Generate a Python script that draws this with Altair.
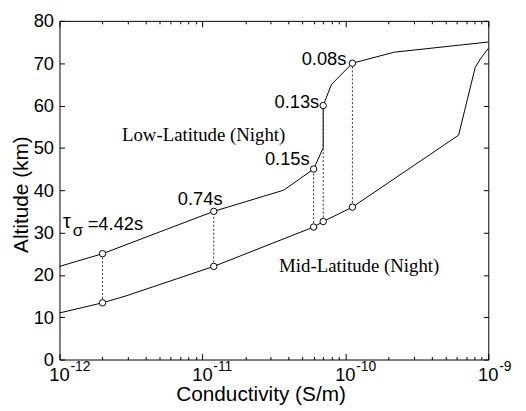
import altair as alt
import pandas as pd

# ---- data ----
low_x = [1e-12, 2e-12, 1.2e-11, 3.7e-11, 6e-11, 7e-11, 7e-11, 8e-11, 1.12e-10, 2.2e-10, 1e-9]
low_y = [22, 25, 35, 40, 45, 50, 60, 65, 70, 72.6, 75]
mid_x = [1e-12, 2e-12, 2.9e-12, 1.2e-11, 6e-11, 7e-11, 1.12e-10, 6.2e-10, 8.1e-10, 8.8e-10, 1e-9]
mid_y = [11, 13.4, 15, 22, 31.3, 32.6, 36, 53, 69, 71, 73.5]

tau_x = [2e-12, 1.2e-11, 6e-11, 7e-11, 1.12e-10]
tau_low = [25, 35, 45, 60, 70]
tau_mid = [13.4, 22, 31.3, 32.6, 36]
tau_labels = ["4.42s", "0.74s", "0.15s", "0.13s", "0.08s"]

curve_names = ["Low-Latitude (Night)", "Mid-Latitude (Night)"]

x_major = [1e-12, 1e-11, 1e-10, 1e-9]
x_exponents = ["-12", "-11", "-10", "-9"]
x_ticks = [k * 10.0 ** e for e in (-12, -11, -10) for k in range(1, 10)] + [1e-9]
y_ticks = [0, 10, 20, 30, 40, 50, 60, 70, 80]

W, H = 433, 342
SANS = "Liberation Sans"
SERIF = "Liberation Serif"

line_df = pd.DataFrame({
    "x": low_x + mid_x,
    "y": low_y + mid_y,
    "series": ["low"] * len(low_x) + ["mid"] * len(mid_x),
    "idx": list(range(len(low_x))) + list(range(len(mid_x))),
})
tau_df = pd.DataFrame({"i": list(range(len(tau_x))), "x": tau_x, "low": tau_low,
                       "mid": tau_mid, "label": tau_labels})

xs = alt.Scale(type="log", domain=[1e-12, 1e-9], nice=False)
ys = alt.Scale(domain=[0, 80], nice=False)

major_test = "abs(log(datum.value)/LN10 - round(log(datum.value)/LN10)) < 0.001"

lines = alt.Chart(line_df).mark_line(color="black", strokeWidth=1).encode(
    x=alt.X("x:Q", scale=xs, axis=alt.Axis(
        orient="bottom", labels=False, ticks=False, tickSize=0, domain=False, grid=False,
        title="Conductivity (S/m)", titleFont=SANS, titleFontSize=21, titleFontWeight="normal",
        titleColor="black", titleX=203, titleY=35, titleAlign="center", titleBaseline="middle")),
    y=alt.Y("y:Q", scale=ys, axis=alt.Axis(
        orient="left", values=y_ticks, ticks=False, tickSize=0, domain=False, grid=False,
        labelFont=SANS, labelFontSize=18.5, labelColor="black", labelPadding=6,
        title="Altitude (km)", titleFont=SANS, titleFontSize=21, titleFontWeight="normal",
        titleColor="black", titleX=-38, titleY=175, titleAngle=270,
        titleAlign="center", titleBaseline="middle")),
    detail="series:N",
    order="idx:Q",
)

rules = alt.Chart(tau_df).mark_rule(color="#333333", strokeWidth=1, strokeDash=[2, 2]).encode(
    x=alt.X("x:Q", scale=xs, axis=alt.Axis(
        orient="top", offset=-H, values=x_ticks, labels=False, domain=False, grid=False,
        tickColor="black", tickWidth=1,
        tickSize={"condition": {"test": major_test, "value": 6}, "value": 3}, title="")),
    y=alt.Y("mid:Q", scale=ys, axis=alt.Axis(
        orient="left", offset=-W, values=y_ticks, labels=False, domain=False, grid=False,
        tickColor="black", tickWidth=1, tickSize=5, title="")),
    y2="low:Q",
)

circles = alt.Chart(tau_df).transform_fold(["low", "mid"], as_=["k", "v"]).mark_circle(
    fill="white", stroke="black", strokeWidth=1, size=42, opacity=1).encode(
    x=alt.X("x:Q", scale=xs, axis=alt.Axis(
        orient="bottom", offset=-H, values=x_ticks, labels=False, domain=False, grid=False,
        tickColor="black", tickWidth=1,
        tickSize={"condition": {"test": major_test, "value": 6}, "value": 3}, title="")),
    y=alt.Y("v:Q", scale=ys, axis=alt.Axis(
        orient="right", offset=-W, values=y_ticks, labels=False, domain=False, grid=False,
        tickColor="black", tickWidth=1, tickSize=5, title="")),
)


def tau_text(i, dx, dy, align="right"):
    return alt.Chart(tau_df).transform_filter(f"datum.i == {i}").mark_text(
        font=SANS, fontSize=18.5, color="black", align=align, baseline="middle",
        dx=dx, dy=dy).encode(
        x=alt.X("x:Q", scale=xs, axis=None),
        y=alt.Y("low:Q", scale=ys, axis=None),
        text="label:N",
    )


def tau_sym(txt, dx, dy, size):
    return alt.Chart(tau_df).transform_filter("datum.i == 0").mark_text(
        font=SANS, fontSize=size, color="black", align="left", baseline="alphabetic",
        dx=dx, dy=dy, text=txt).encode(
        x=alt.X("x:Q", scale=xs, axis=None),
        y=alt.Y("low:Q", scale=ys, axis=None),
    )


tau_layers = [
    tau_sym("τ", -40, -26, 20),
    tau_sym("σ", -30, -18, 17),
    alt.Chart(tau_df).transform_filter("datum.i == 0").transform_calculate(
        lab="'=' + datum.label").mark_text(
        font=SANS, fontSize=18.5, color="black", align="left", baseline="alphabetic",
        dx=-15, dy=-24).encode(
        x=alt.X("x:Q", scale=xs, axis=None),
        y=alt.Y("low:Q", scale=ys, axis=None),
        text=alt.Text("lab:N"),
    ),
    tau_text(1, 9, -12),
    tau_text(2, -4, -10),
    tau_text(3, -4, -4),
    tau_text(4, -6, -4),
]

curve_df = pd.DataFrame({"t": curve_names, "x": [1.02e-11, 1.25e-10], "y": [53.1, 22.1]})
curve_text = alt.Chart(curve_df).mark_text(
    font=SERIF, fontSize=19, color="black", align="center", baseline="middle").encode(
    x=alt.X("x:Q", scale=xs, axis=None),
    y=alt.Y("y:Q", scale=ys, axis=None),
    text="t:N",
)

xlab_df = pd.DataFrame({"v": x_major, "e": x_exponents})
xlab_base = alt.Chart(xlab_df).mark_text(
    font=SANS, fontSize=18.5, color="black", align="center", baseline="middle", text="10").encode(
    x=alt.X("v:Q", scale=xs, axis=None),
    y=alt.value(H + 16),
)
xlab_exp = alt.Chart(xlab_df).mark_text(
    font=SANS, fontSize=14, color="black", align="left", baseline="middle", dx=11).encode(
    x=alt.X("v:Q", scale=xs, axis=None),
    y=alt.value(H + 8),
    text="e:N",
)

chart = alt.layer(
    lines, rules, circles, curve_text, xlab_base, xlab_exp, *tau_layers
).resolve_axis(x="independent", y="independent").properties(
    width=W, height=H,
    autosize=alt.AutoSizeParams(type="none"),
    padding={"left": 52, "top": 11, "right": 30, "bottom": 50},
    background="white",
).configure_view(stroke="black", strokeWidth=1)

chart.save("out.html", embed_options={"renderer": "svg", "actions": False})
